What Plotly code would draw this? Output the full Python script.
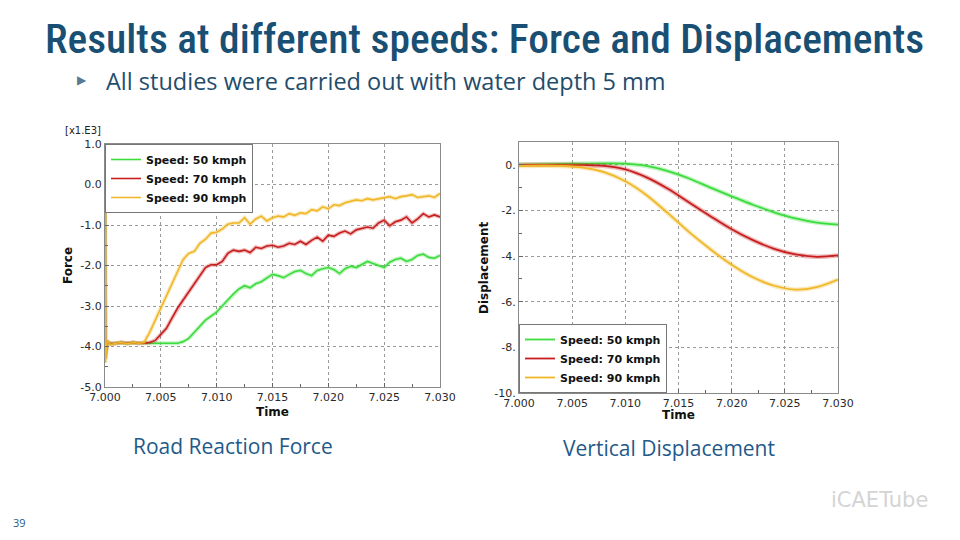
import plotly.graph_objects as go

# ---------------- data ----------------
series_names = ["Speed: 50 kmph", "Speed: 70 kmph", "Speed: 90 kmph"]
series_colors = ["#3ddc3d", "#c81e1e", "#f0b828"]

force_t = [7.0000, 7.00003, 7.0002, 7.0005, 7.0010, 7.0015, 7.0020, 7.0025, 7.0030, 7.0035, 7.0040,
           7.0045, 7.0050, 7.0055, 7.0060, 7.0065, 7.0070, 7.0075, 7.0080, 7.0085, 7.0090, 7.0095,
           7.0100, 7.0105, 7.0110, 7.0115, 7.0120, 7.0125, 7.0130, 7.0135, 7.0140, 7.0145, 7.0150,
           7.0155, 7.0160, 7.0165, 7.0170, 7.0175, 7.0180, 7.0185, 7.0190, 7.0195, 7.0200, 7.0205,
           7.0210, 7.0215, 7.0220, 7.0225, 7.0230, 7.0235, 7.0240, 7.0245, 7.0250, 7.0255, 7.0260,
           7.0265, 7.0270, 7.0275, 7.0280, 7.0285, 7.0290, 7.0295, 7.0300]
force_50 = [-0.40, -4.20, -3.90, -3.93, -3.92, -3.90, -3.93, -3.90, -3.92, -3.91, -3.92,
            -3.92, -3.93, -3.92, -3.92, -3.92, -3.88, -3.80, -3.65, -3.50, -3.35, -3.25,
            -3.15, -3.00, -2.85, -2.70, -2.58, -2.50, -2.55, -2.45, -2.40, -2.30, -2.22,
            -2.25, -2.30, -2.22, -2.15, -2.12, -2.20, -2.25, -2.12, -2.08, -2.05, -2.10,
            -2.20, -2.08, -2.02, -2.05, -1.98, -1.90, -1.95, -2.00, -2.05, -1.92, -1.85,
            -1.82, -1.90, -1.85, -1.75, -1.72, -1.80, -1.82, -1.75]
force_70 = [-0.35, -4.30, -3.88, -3.93, -3.92, -3.90, -3.92, -3.90, -3.92, -3.92, -3.90,
            -3.85, -3.70, -3.55, -3.30, -3.05, -2.85, -2.65, -2.45, -2.25, -2.05, -1.98,
            -1.98, -1.90, -1.70, -1.62, -1.65, -1.62, -1.68, -1.55, -1.58, -1.52, -1.50,
            -1.55, -1.52, -1.45, -1.48, -1.40, -1.48, -1.38, -1.30, -1.40, -1.25, -1.28,
            -1.20, -1.15, -1.22, -1.12, -1.08, -1.05, -1.08, -0.95, -0.88, -1.02, -0.92,
            -0.88, -0.80, -0.95, -0.85, -0.72, -0.80, -0.75, -0.80]
force_90 = [-0.30, -4.40, -3.85, -3.95, -3.92, -3.90, -3.93, -3.90, -3.92, -3.90, -3.65,
            -3.35, -3.05, -2.75, -2.45, -2.15, -1.85, -1.70, -1.65, -1.45, -1.35, -1.20,
            -1.18, -1.10, -0.98, -0.95, -0.95, -0.82, -0.98, -0.85, -0.78, -0.90, -0.82,
            -0.78, -0.80, -0.72, -0.76, -0.70, -0.72, -0.62, -0.65, -0.55, -0.60, -0.50,
            -0.52, -0.45, -0.42, -0.38, -0.40, -0.35, -0.38, -0.35, -0.33, -0.30, -0.35,
            -0.30, -0.28, -0.25, -0.32, -0.30, -0.28, -0.32, -0.22]

disp_t = [7.000, 7.002, 7.004, 7.006, 7.008, 7.010, 7.012, 7.014, 7.016, 7.018, 7.020,
          7.022, 7.024, 7.026, 7.028, 7.030]
disp_50 = [0.0, 0.02, 0.04, 0.05, 0.06, 0.05, -0.05, -0.28, -0.60, -1.00, -1.38,
           -1.75, -2.08, -2.35, -2.53, -2.62]
disp_70 = [0.0, 0.0, 0.0, -0.01, -0.05, -0.20, -0.55, -1.05, -1.65, -2.25, -2.82,
           -3.30, -3.68, -3.93, -4.03, -3.97]
disp_90 = [-0.05, -0.04, -0.05, -0.12, -0.32, -0.72, -1.33, -2.12, -2.95, -3.70, -4.38,
           -4.93, -5.30, -5.47, -5.36, -5.03]

x_ticks = [7.000, 7.005, 7.010, 7.015, 7.020, 7.025, 7.030]
force_ticks = [1, 0, -1, -2, -3, -4, -5]
force_ticktext = ["1.0", "0.0", "-1.0", "-2.0", "-3.0", "-4.0", "-5.0"]
disp_ticks = [0, -2, -4, -6, -8, -10]
disp_ticktext = ["0.", "-2.", "-4.", "-6.", "-8.", "-10."]

# ---------------- figure ----------------
# The page body has an 8px margin, so the figure is sized to fit inside the window.
OFF = 8
W, H = 960 - 2 * OFF, 540 - 2 * OFF
fig = go.Figure()

force_series = [force_50, force_70, force_90]
disp_series = [disp_50, disp_70, disp_90]

for name, col, ys in zip(series_names, series_colors, force_series):
    fig.add_trace(go.Scatter(x=force_t, y=ys, mode="lines", xaxis="x", yaxis="y",
                             line=dict(color=col, width=4), opacity=0.3,
                             showlegend=False, hoverinfo="skip"))
    fig.add_trace(go.Scatter(x=force_t, y=ys, mode="lines", name=name, xaxis="x", yaxis="y",
                             line=dict(color=col, width=1.6), legend="legend"))

for name, col, ys in zip(series_names, series_colors, disp_series):
    fig.add_trace(go.Scatter(x=disp_t, y=ys, mode="lines", xaxis="x2", yaxis="y2",
                             line=dict(color=col, width=4.5, shape="spline"), opacity=0.3,
                             showlegend=False, hoverinfo="skip"))
    fig.add_trace(go.Scatter(x=disp_t, y=ys, mode="lines", name=name, xaxis="x2", yaxis="y2",
                             line=dict(color=col, width=1.8, shape="spline"), legend="legend2"))

def px_x(p):
    return (p - OFF) / W

def px_y(p):
    return 1 - (p - OFF) / H

tick_font = dict(family="DejaVu Sans", size=11, color="#2a2a2a")
axis_common = dict(showline=True, linecolor="#8a8a8a", linewidth=1, mirror=True,
                   showgrid=True, gridcolor="#9a9a9a", griddash="dot", gridwidth=1,
                   zeroline=False, ticks="inside", ticklen=4, tickcolor="#666666",
                   tickfont=tick_font, automargin=False)
minor_x = dict(ticks="inside", ticklen=3, dtick=0.0025, tickcolor="#666666", showgrid=False)

legend_font = dict(family="DejaVu Sans", size=11, color="#111111", weight="bold")

fig.update_layout(
    template="none",
    width=W, height=H,
    margin=dict(l=0, r=0, t=0, b=0, pad=0, autoexpand=False),
    paper_bgcolor="white", plot_bgcolor="white",
    xaxis=dict(domain=[px_x(105), px_x(440)], anchor="y", range=[7.0, 7.03],
               tickvals=x_ticks, tickformat=".3f", minor=minor_x, **axis_common),
    yaxis=dict(domain=[px_y(387), px_y(144)], anchor="x", range=[-5, 1],
               tickvals=force_ticks, ticktext=force_ticktext,
               minor=dict(ticks="inside", ticklen=3, dtick=0.5, tickcolor="#666666", showgrid=False),
               **axis_common),
    xaxis2=dict(domain=[px_x(519), px_x(838)], anchor="y2", range=[7.0, 7.03],
                tickvals=x_ticks, tickformat=".3f", minor=minor_x, **axis_common),
    yaxis2=dict(domain=[px_y(393), px_y(142)], anchor="x2", range=[-10, 1],
                tickvals=disp_ticks, ticktext=disp_ticktext,
                minor=dict(ticks="inside", ticklen=3, dtick=1, tickcolor="#666666", showgrid=False),
                **axis_common),
    legend=dict(x=px_x(105), y=px_y(144), xanchor="left", yanchor="top",
                bgcolor="white", bordercolor="#777777", borderwidth=1,
                font=legend_font, itemwidth=30, tracegroupgap=0),
    legend2=dict(x=px_x(519), y=px_y(393), xanchor="left", yanchor="bottom",
                 bgcolor="white", bordercolor="#777777", borderwidth=1,
                 font=legend_font, itemwidth=30, tracegroupgap=0),
    showlegend=True,
)

def note(text, x, y, size, color, family="Open Sans", xanchor="center", angle=0, weight=None):
    f = dict(family=family, size=size, color=color)
    if weight is not None:
        f["weight"] = weight
    return dict(text=text, x=px_x(x), y=px_y(y), xref="paper", yref="paper",
                xanchor=xanchor, yanchor="middle", showarrow=False, textangle=angle, font=f)

title_col = "#1a4f74"
ann = [
    note("Results at different speeds: Force and Displacements", 484, 38, 41.5, title_col,
         family="Roboto Condensed, Liberation Sans Narrow, Open Sans", weight=500),
    note("▶", 82, 80, 12, "#5a7a94", family="DejaVu Sans"),
    note("All studies were carried out with water depth 5 mm", 104, 81, 23.5, "#1f4d6b", xanchor="left"),
    note("Road Reaction Force", 233, 446, 21, "#1f5a8a"),
    note("Vertical Displacement", 669, 448, 21, "#1f5a8a"),
    note("39", 19, 522, 11, "#1f5a8a"),
    note("iCAETube", 930, 500, 21, "#d4d4d4", family="DejaVu Sans", xanchor="right"),
    note("[x1.E3]", 83, 131, 10, "#222222", family="DejaVu Sans"),
    note("<b>Time</b>", 272, 412, 12, "#111111", family="DejaVu Sans"),
    note("<b>Time</b>", 678, 415, 12, "#111111", family="DejaVu Sans"),
    note("<b>Force</b>", 68, 266, 12, "#111111", family="DejaVu Sans", angle=-90),
    note("<b>Displacement</b>", 484, 268, 12, "#111111", family="DejaVu Sans", angle=-90),
]
fig.update_layout(annotations=ann)

fig.write_html("out.html")
